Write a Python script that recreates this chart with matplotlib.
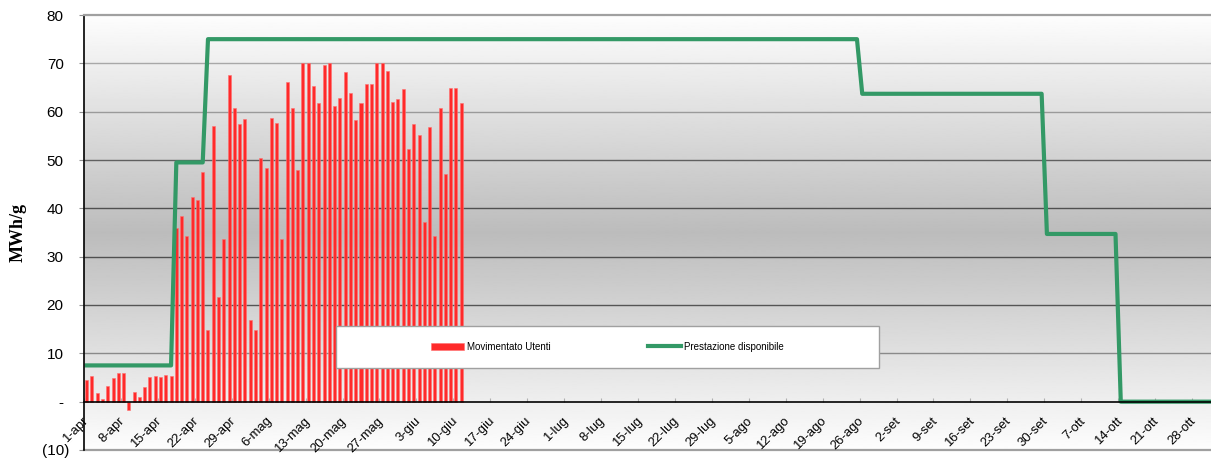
import numpy as np
import matplotlib
matplotlib.use("Agg")
import matplotlib.pyplot as plt
from matplotlib.patches import Rectangle
from matplotlib.lines import Line2D
from matplotlib.transforms import ScaledTranslation

# ---------------- data ----------------
tick_labels = ["1-apr", "8-apr", "15-apr", "22-apr", "29-apr", "6-mag", "13-mag",
               "20-mag", "27-mag", "3-giu", "10-giu", "17-giu", "24-giu", "1-lug",
               "8-lug", "15-lug", "22-lug", "29-lug", "5-ago", "12-ago", "19-ago",
               "26-ago", "2-set", "9-set", "16-set", "23-set", "30-set", "7-ott",
               "14-ott", "21-ott", "28-ott"]

# daily values from 1-apr (MWh/g)
movimentato = [4.4, 5.4, 1.7, 0.5, 3.2, 5.0, 5.9, 5.9, -1.7, 1.9, 1.0, 3.0, 5.2, 5.4,
               5.2, 5.6, 5.4,
               36.0, 38.5, 34.3, 42.3, 41.8, 47.6, 14.9, 57.1, 21.7, 33.7, 67.6, 60.8,
               57.5, 58.5, 16.8, 14.9, 50.4, 48.4, 58.7, 57.7, 33.7, 66.1, 60.8, 48.0,
               70.0, 70.0, 65.3, 61.8, 69.6, 70.0, 61.2, 62.8, 68.2, 63.9, 58.3, 61.8,
               65.8, 65.8, 70.0, 70.0, 68.4, 62.0, 62.6, 64.6, 52.3, 57.5, 55.2, 37.2,
               56.8, 34.3, 60.8, 47.1, 64.9, 64.9, 61.8]

# "Prestazione disponibile": constant levels and how many days each lasts
prest_levels = [7.5, 49.5, 75.0, 63.7, 34.7, 0.0]
prest_days = [17, 6, 124, 35, 14, 18]

y_ticks = [-10, 0, 10, 20, 30, 40, 50, 60, 70, 80]
y_labels = ["(10)", "-", "10", "20", "30", "40", "50", "60", "70", "80"]

# ---------------- figure ----------------
plt.rcParams["font.family"] = ["Liberation Sans", "DejaVu Sans"]

W, H = 1211, 463
fig = plt.figure(figsize=(W / 100, H / 100), dpi=100)
ax = fig.add_axes([84 / W, 13 / H, 1127 / W, 435 / H])

xmax = 213.6
ax.set_xlim(0, xmax)
ax.set_ylim(-10, 80)

# vertical gradient background (white - gray - white)
yy = np.linspace(80, -10, 400)
shade = (188 + 65 * np.abs(yy - 35) / 45) / 255.0
ax.imshow(shade[:, None], extent=[0, xmax, -10, 80], aspect="auto", cmap="gray",
          vmin=0, vmax=1, interpolation="bilinear", zorder=0)

# gridlines
grid_levels = [10, 20, 30, 40, 50, 60, 70]
grid_colors = ["#8a8a8a", "#555555", "#505050", "#505050", "#606060", "#9a9a9a", "#a8a8a8"]
for gy, gc in zip(grid_levels, grid_colors):
    ax.axhline(gy, color=gc, lw=1.0, zorder=1)
ax.axhline(-10, color="#a0a0a0", lw=1.6, zorder=1, clip_on=False)

days = np.arange(len(movimentato))
ax.bar(days + 0.5, movimentato, width=0.57, color="#ff2a2a", edgecolor="#ff7070",
       linewidth=0.4, zorder=2)

prest = np.repeat(prest_levels, prest_days)
ax.plot(np.arange(len(prest)) + 0.5, prest, color="#339966", lw=3.0, zorder=3)

# spines
ax.spines["right"].set_visible(False)
ax.spines["top"].set_color("#a0a0a0")
ax.spines["top"].set_linewidth(1.6)
ax.spines["left"].set_color("black")
ax.spines["left"].set_linewidth(1.2)
ax.spines["bottom"].set_position(("data", 0))
ax.spines["bottom"].set_color("black")
ax.spines["bottom"].set_linewidth(1.2)
for s in ax.spines.values():
    s.set_zorder(4)

# ticks
ax.set_xticks(np.arange(len(tick_labels)) * 7)
ax.set_xticklabels(tick_labels, rotation=45, ha="right", va="top", fontsize=9.4)
ax.tick_params(axis="x", direction="in", length=3, color="#b0b0b0", pad=9.5)
for lbl in ax.get_xticklabels():
    lbl.set_transform(lbl.get_transform() + ScaledTranslation(4.5 / 72, 0, fig.dpi_scale_trans))

ax.set_yticks(y_ticks)
ax.set_yticklabels(y_labels, fontsize=11)
ax.tick_params(axis="y", direction="out", length=3.6, color="#909090", pad=11)
for lbl in ax.get_yticklabels():
    if lbl.get_text().startswith("("):
        lbl.set_transform(lbl.get_transform() + ScaledTranslation(4 / 72, 0, fig.dpi_scale_trans))

fig.text(18 / W, 1 - 233 / H, "MWh/g", rotation=90, ha="center", va="center",
         fontsize=13, fontweight="bold", family=["Liberation Serif", "DejaVu Serif"])

# legend box
x0, x1 = (336.4 - 84) / 1127, (879 - 84) / 1127
y0, y1 = (450 - 367.5) / 435, (450 - 326) / 435
ax.add_patch(Rectangle((x0, y0), x1 - x0, y1 - y0, transform=ax.transAxes,
                       facecolor="white", edgecolor="#a0a0a0", lw=1.0, zorder=4.5))
handles = [Rectangle((0, 0), 1, 1, facecolor="#ff2a2a", edgecolor="#ff7070", lw=0.4),
           Line2D([], [], color="#339966", lw=3.0)]
ax.legend(handles, ["Movimentato Utenti", "Prestazione disponibile"], ncol=2,
          loc="center", bbox_to_anchor=((x0 + x1) / 2, (y0 + y1) / 2),
          frameon=False, fontsize=7, handlelength=3.4, handletextpad=0.3,
          columnspacing=10).set_zorder(5)

fig.savefig("out.png", dpi=100)
